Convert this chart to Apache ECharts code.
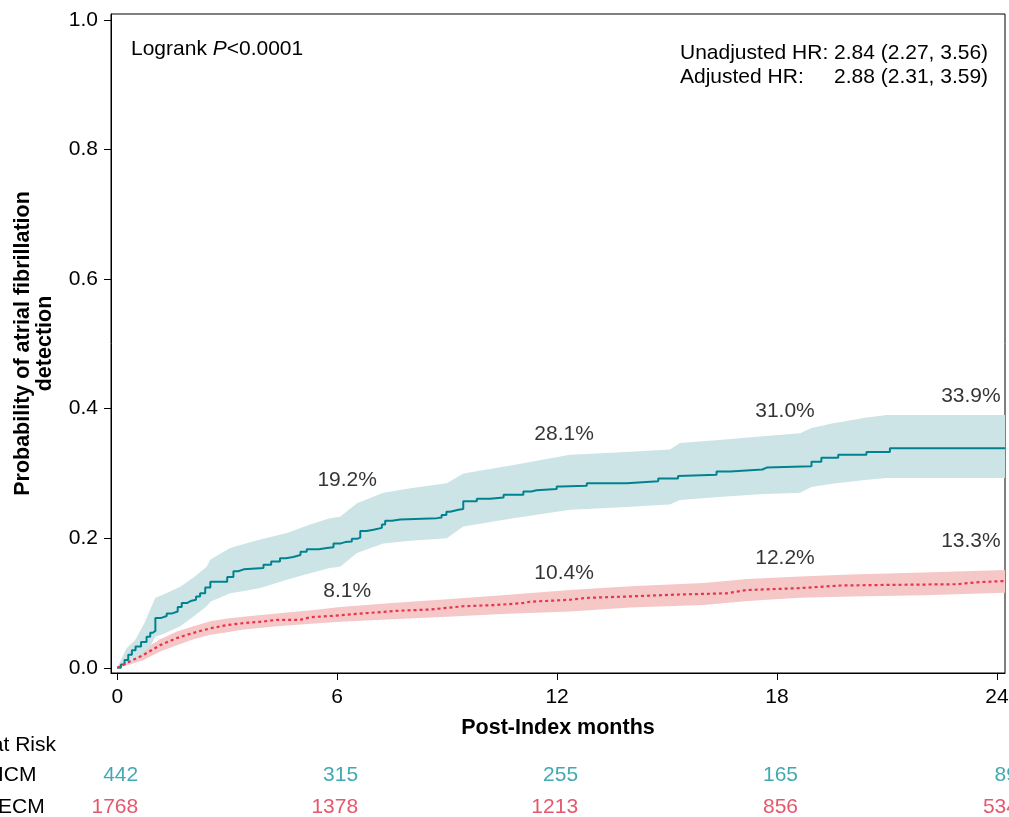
<!DOCTYPE html>
<html><head><meta charset="utf-8">
<script src="https://cdn.jsdelivr.net/npm/echarts@6/dist/echarts.min.js"></script>
<style>html,body{margin:0;padding:0;background:#fff;overflow:hidden}#c{width:1009px;height:817px}</style>
</head><body><div id="c"></div>
<script>
// ---------- DATA ----------
const xTicks = [0, 6, 12, 18, 24];
const yTicks = [0, 0.2, 0.4, 0.6, 0.8, 1.0];

// ICM Kaplan-Meier cumulative incidence (time in months, probability)
const icmCurve = [
  [0,0],[0.1,0.005],[0.2,0.012],[0.3,0.02],[0.4,0.027],[0.5,0.033],[0.65,0.04],[0.8,0.048],[0.9,0.054],
  [0.97,0.057],[1.04,0.077],[1.2,0.08],[1.35,0.084],[1.5,0.087],[1.65,0.094],[1.76,0.1],[1.9,0.103],
  [2.0,0.105],[2.15,0.11],[2.26,0.115],[2.4,0.124],[2.54,0.133],[3.0,0.14],[3.17,0.149],[3.3,0.152],
  [3.45,0.154],[3.99,0.159],[4.2,0.164],[4.44,0.169],[4.6,0.171],[4.8,0.174],[5.0,0.179],[5.17,0.183],
  [5.5,0.185],[5.72,0.186],[5.9,0.192],[6.1,0.194],[6.22,0.195],[6.4,0.199],[6.54,0.201],[6.63,0.211],
  [6.8,0.213],[6.99,0.216],[7.22,0.221],[7.31,0.227],[7.5,0.229],[7.72,0.231],[8.72,0.232],[8.85,0.236],
  [8.98,0.241],[9.08,0.244],[9.31,0.245],[9.44,0.257],[9.81,0.261],[10.17,0.263],[10.54,0.267],
  [11.08,0.272],[11.3,0.274],[11.44,0.276],[11.99,0.280],[12.1,0.281],[12.81,0.285],[13.9,0.288],
  [14.76,0.292],[15.3,0.296],[15.35,0.298],[16.35,0.303],[16.72,0.306],[17.6,0.309],[17.72,0.311],
  [18.94,0.318],[19.21,0.324],[19.67,0.329],[20.44,0.333],[21.08,0.339],[24.22,0.339]
];
const icmBandTime  = [0,0.25,0.49,0.75,0.9,1.04,1.26,1.72,2.1,2.44,2.54,3.08,3.5,3.9,4.63,5.26,5.8,6.08,6.54,7.26,8.0,8.99,9.44,10.81,12.35,13.5,15.08,15.35,16.5,17.53,18.63,18.94,19.5,20.4,20.99,24.22];
const icmUpper = [0,0.03,0.043,0.07,0.09,0.108,0.113,0.125,0.14,0.156,0.167,0.185,0.192,0.198,0.208,0.221,0.231,0.233,0.254,0.270,0.277,0.285,0.300,0.313,0.329,0.332,0.337,0.347,0.352,0.357,0.362,0.370,0.377,0.386,0.390,0.390];
const icmLower = [0,0.008,0.012,0.025,0.033,0.048,0.052,0.064,0.08,0.095,0.102,0.115,0.119,0.123,0.136,0.146,0.154,0.156,0.177,0.192,0.196,0.200,0.218,0.231,0.244,0.247,0.252,0.259,0.264,0.268,0.270,0.279,0.284,0.290,0.293,0.293];

// ECM
const ecmCurve = [
  [0,0],[0.35,0.010],[0.72,0.020],[1.17,0.035],[1.63,0.046],[2.08,0.054],[2.54,0.061],[3.0,0.066],
  [3.45,0.069],[3.9,0.071],[4.35,0.074],[4.99,0.074],[5.26,0.078],[6.08,0.081],[6.72,0.084],[7.63,0.088],
  [8.54,0.090],[9.44,0.095],[10.35,0.097],[11.08,0.100],[11.26,0.102],[12.35,0.105],[12.81,0.108],
  [13.9,0.110],[15.26,0.113],[16.62,0.115],[17.17,0.120],[18.63,0.123],[19.72,0.127],[21.08,0.128],
  [22.9,0.129],[23.44,0.132],[24.22,0.134]
];
const ecmBandTime = [0,0.35,0.72,1.17,1.63,2.08,2.54,3.0,3.45,4.35,5.3,6.08,7.5,9,10.5,12.35,14,16,17.2,18.63,20,22,24.22];
const ecmUpper = [0,0.016,0.028,0.044,0.056,0.064,0.072,0.076,0.079,0.084,0.089,0.094,0.100,0.106,0.112,0.120,0.126,0.131,0.137,0.141,0.144,0.147,0.151];
const ecmLower = [0,0.005,0.012,0.025,0.035,0.044,0.051,0.055,0.059,0.064,0.068,0.071,0.075,0.079,0.083,0.087,0.093,0.097,0.103,0.108,0.110,0.112,0.116];

// Annotated cumulative incidence (%)
const annMonths = [6, 12, 18, 24];
const icmAnnPct = [19.2, 28.1, 31.0, 33.9];
const ecmAnnPct = [8.1, 10.4, 12.2, 13.3];

// Numbers at risk
const riskMonths = [0, 6, 12, 18, 24];
const riskGroups = ['ICM', 'ECM'];
const icmRisk = [442, 315, 255, 165, 89];
const ecmRisk = [1768, 1378, 1213, 856, 534];

// ---------- STYLE / LAYOUT ----------
const FONT = '"Liberation Sans", Arial, Helvetica, sans-serif';
const FS = 21;
const FSB = 21.5;
const X_MIN = -0.17, X_MAX = 24.22, Y_MIN = -0.008, Y_MAX = 1.009;
const tealLine = '#00838F', tealBand = '#CDE4E7', redLine = '#E8344E', redBand = '#F6C7C7';
const tealText = '#12939F', redText = '#E02D48';
const icmAnnOffset = [[10,-63],[7,-52],[8,-56],[-26,-52]];
const ecmAnnOffset = [[10,-24],[7,-27],[8,-31],[-26,-40]];

const chart = echarts.init(document.getElementById('c'), null, {renderer: 'canvas'});

function bandSeries(times, lower, upper, color, z) {
  return { type: 'custom', xAxisIndex: 0, yAxisIndex: 0, silent: true, z: z, clip: true,
    data: times.map((t, i) => [t, lower[i], upper[i]]),
    encode: { x: 0, y: [1, 2] },
    renderItem: function (params, api) {
      if (params.dataIndex !== 0) return null;
      const pts = [];
      for (let i = 0; i < times.length; i++) pts.push(api.coord([times[i], upper[i]]));
      for (let i = times.length - 1; i >= 0; i--) pts.push(api.coord([times[i], lower[i]]));
      return { type: 'polygon', shape: { points: pts }, style: { fill: color, stroke: null } };
    } };
}

function annSeries(pcts, offsets) {
  return { type: 'scatter', xAxisIndex: 0, yAxisIndex: 0, symbolSize: 0, silent: true, z: 10,
    data: annMonths.map((m, i) => ({ value: [m, pcts[i] / 100, pcts[i]],
      label: { offset: offsets[i] } })),
    label: { show: true, position: 'inside', color: '#000', fontSize: FS, fontFamily: FONT,
      formatter: p => p.value[2].toFixed(1) + '%' } };
}

function riskSeries(row, counts, color) {
  return { type: 'scatter', xAxisIndex: 1, yAxisIndex: 1, symbolSize: 0, silent: true,
    data: riskMonths.map((m, i) => [m, row, counts[i]]),
    label: { show: true, position: 'inside', align: 'right', offset: [21, 0], color: color,
      fontSize: FS, fontFamily: FONT, formatter: p => String(p.value[2]) } };
}

const option = {
  animation: false,
  backgroundColor: '#fff',
  textStyle: { fontFamily: FONT },
  grid: [
    { left: 111, right: 4, top: 14, bottom: 144, show: true, borderColor: '#000', borderWidth: 1,
      backgroundColor: 'transparent', containLabel: false, outerBoundsMode: 'none' },
    { left: 111, right: 4, top: 730, bottom: 0, containLabel: false, outerBoundsMode: 'none' }
  ],
  xAxis: [
    { type: 'value', gridIndex: 0, min: X_MIN, max: X_MAX,
      axisLine: { show: true, onZero: false, lineStyle: { color: '#000', width: 1 } },
      axisTick: { show: true, length: 7, customValues: xTicks, lineStyle: { color: '#000' } },
      axisLabel: { customValues: xTicks, margin: 14, fontSize: FS, color: '#000', fontFamily: FONT },
      splitLine: { show: false },
      name: 'Post-Index months', nameLocation: 'middle', nameGap: 44,
      nameTextStyle: { fontWeight: 'bold', fontSize: FSB, color: '#000', fontFamily: FONT } },
    { type: 'value', gridIndex: 1, min: X_MIN, max: X_MAX, show: false }
  ],
  yAxis: [
    { type: 'value', gridIndex: 0, min: Y_MIN, max: Y_MAX,
      axisLine: { show: true, onZero: false, lineStyle: { color: '#000', width: 1 } },
      axisTick: { show: true, length: 7, customValues: yTicks, lineStyle: { color: '#000' } },
      axisLabel: { customValues: yTicks, margin: 13, fontSize: FS, color: '#000', fontFamily: FONT,
        formatter: v => Number(v).toFixed(1) },
      splitLine: { show: false },
      name: 'Probability of atrial fibrillation\ndetection', nameLocation: 'middle', nameGap: 55,
      nameTextStyle: { fontWeight: 'bold', fontSize: FSB, color: '#000', fontFamily: FONT, lineHeight: 22, align: 'center' } },
    { type: 'value', gridIndex: 1, inverse: true, min: -1.406, max: 1.3125,
      axisLine: { show: false }, axisTick: { show: false }, splitLine: { show: false },
      axisLabel: { customValues: [0, 1], formatter: v => riskGroups[Math.round(v)] || '',
        align: 'left', margin: 113, fontSize: FS, color: '#000', fontFamily: FONT } }
  ],
  series: [
    bandSeries(ecmBandTime, ecmLower, ecmUpper, redBand, 1),
    bandSeries(icmBandTime, icmLower, icmUpper, tealBand, 2),
    { name: 'ICM', type: 'line', step: 'end', xAxisIndex: 0, yAxisIndex: 0, symbol: 'none', z: 5,
      lineStyle: { color: tealLine, width: 2 }, data: icmCurve },
    { name: 'ECM', type: 'line', xAxisIndex: 0, yAxisIndex: 0, symbol: 'none', z: 5,
      lineStyle: { color: redLine, width: 2.2, type: [3, 3] }, data: ecmCurve },
    annSeries(icmAnnPct, icmAnnOffset),
    annSeries(ecmAnnPct, ecmAnnOffset),
    riskSeries(0, icmRisk, tealText),
    riskSeries(1, ecmRisk, redText)
  ],
  graphic: [
    { type: 'text', x: 131, y: 49, z: 20,
      style: { text: '{a|Logrank }{i|P}{a|<0.0001}', fill: '#000', verticalAlign: 'middle',
        rich: { a: { fontSize: FS, fontFamily: FONT, fill: '#000' },
                i: { fontSize: FS, fontFamily: FONT, fontStyle: 'italic', fill: '#000' } } } },
    { type: 'text', x: 680, y: 53, z: 20,
      style: { text: 'Unadjusted HR:', fontSize: FS, fontFamily: FONT, fill: '#000', verticalAlign: 'middle' } },
    { type: 'text', x: 834, y: 53, z: 20,
      style: { text: '2.84 (2.27, 3.56)', fontSize: FS, fontFamily: FONT, fill: '#000', verticalAlign: 'middle' } },
    { type: 'text', x: 680, y: 77, z: 20,
      style: { text: 'Adjusted HR:', fontSize: FS, fontFamily: FONT, fill: '#000', verticalAlign: 'middle' } },
    { type: 'text', x: 834, y: 77, z: 20,
      style: { text: '2.88 (2.31, 3.59)', fontSize: FS, fontFamily: FONT, fill: '#000', verticalAlign: 'middle' } },
    { type: 'text', x: 56, y: 745, z: 20,
      style: { text: 'Number at Risk', fontSize: FS, fontFamily: FONT, fill: '#000', align: 'right', verticalAlign: 'middle' } }
  ]
};
chart.setOption(option);
</script>
</body></html>
